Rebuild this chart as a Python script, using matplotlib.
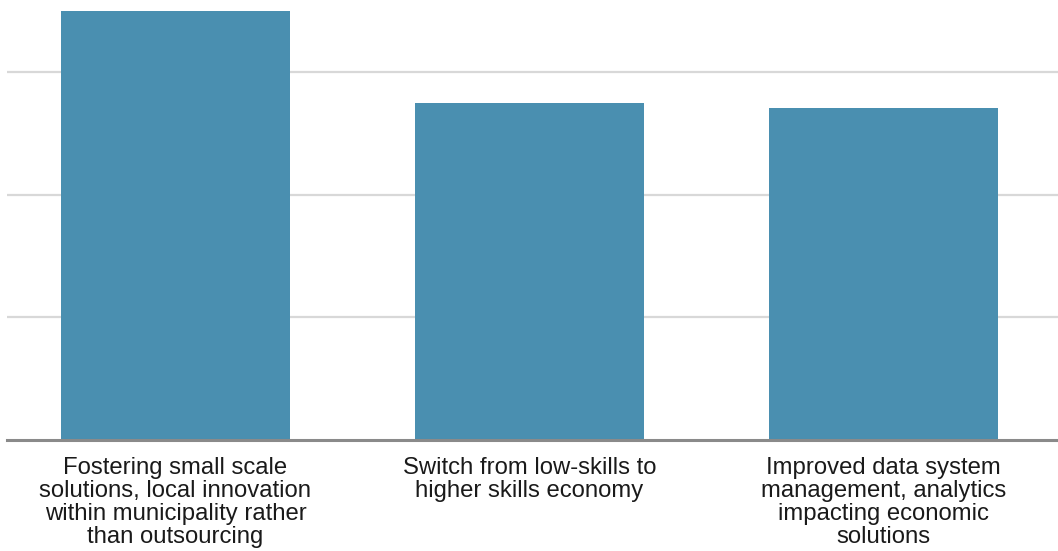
import matplotlib
matplotlib.use('Agg')
import matplotlib.pyplot as plt

# categorias y valores promedio
categorias = [
    'Fostering small scale\nsolutions, local innovation\nwithin municipality rather\nthan outsourcing',
    'Switch from low-skills to\nhigher skills economy',
    'Improved data system\nmanagement, analytics\nimpacting economic\nsolutions',
]
valores = [3.50, 2.75, 2.71]
niveles = [1, 2, 3]

plt.rcParams['font.family'] = ['Liberation Sans', 'DejaVu Sans']

fig = plt.figure(figsize=(10.58, 5.51), dpi=100)
ax = fig.add_axes([7/1058, 111/551, 1 - 7/1058, 440/551])

x = list(range(len(categorias)))
ax.bar(x, valores, width=0.647, color='#4a8fb0', zorder=3)

ax.set_xlim(-0.476, 2.493)
ax.set_ylim(0, 3.59)
ax.set_yticks(niveles)
ax.yaxis.grid(True, color='#d8d8d8', linewidth=1.6, zorder=0)
ax.tick_params(axis='y', left=False, labelleft=False)
ax.set_xticks(x)
ax.set_xticklabels(categorias, fontsize=17.2, color='#1a1a1a', linespacing=1.06)
ax.tick_params(axis='x', length=0, pad=12.5)

for s in ['top', 'right', 'left']:
    ax.spines[s].set_visible(False)
ax.spines['bottom'].set_color('#8a8a8a')
ax.spines['bottom'].set_linewidth(2.2)
ax.spines['bottom'].set_zorder(4)

plt.savefig('out.png', dpi=100, facecolor='white')
